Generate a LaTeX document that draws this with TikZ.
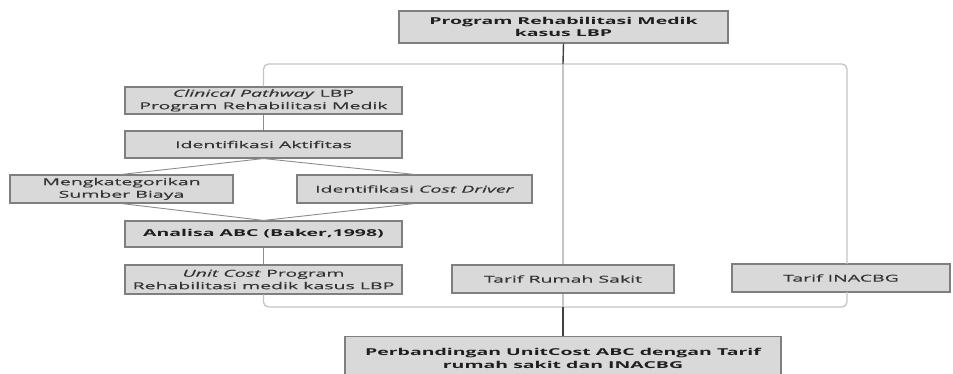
\documentclass[tikz,border=0pt]{standalone}
\usepackage{fontspec}
\setmainfont{Open Sans}[FakeStretch=2.05, UprightFeatures={FakeBold=0.35}, ItalicFeatures={FakeBold=0.35}]
\definecolor{boxfill}{HTML}{D9D9D9}
\definecolor{boxline}{HTML}{7F7F7F}
\definecolor{txt}{HTML}{333333}
\definecolor{busline}{HTML}{C4C4C4}
\definecolor{flowline}{HTML}{8C8C8C}
\definecolor{stemline}{HTML}{404040}
\begin{document}
\begin{tikzpicture}[x=1pt,y=1pt,
  box/.style={draw=boxline, line width=1.1pt, fill=boxfill, inner sep=0pt, align=center,
    font=\fontsize{9.5}{12.5}\selectfont, text=txt},
  boldbox/.style={box, font=\fontsize{9.5}{12.5}\selectfont\bfseries, text=black!88},
  bus/.style={draw=busline, line width=1.3pt, rounded corners=5pt},
  flow/.style={draw=flowline, line width=0.9pt},
  stem/.style={draw=stemline, line width=1.4pt}]
\useasboundingbox (0,0) rectangle (953,-374);
% nodes
\node[boldbox, minimum width=329pt, minimum height=32pt] (top) at (563.5,-27) {Program Rehabilitasi Medik\\kasus LBP};
\node[box, minimum width=277pt, minimum height=27pt] (clin) at (263.5,-100.5) {\textit{Clinical Pathway} LBP\\Program Rehabilitasi Medik};
\node[box, minimum width=277pt, minimum height=27pt] (ident) at (263.5,-144.5) {Identifikasi Aktifitas};
\node[box, minimum width=223pt, minimum height=28pt] (kat) at (121.5,-189) {Mengkategorikan\\Sumber Biaya};
\node[box, minimum width=235pt, minimum height=28pt] (cost) at (414.5,-189) {Identifikasi \textit{Cost Driver}};
\node[boldbox, minimum width=277pt, minimum height=26pt] (abc) at (263.5,-234) {Analisa ABC (Baker,1998)};
\node[box, minimum width=277pt, minimum height=29pt] (unit) at (263.5,-279.5) {\textit{Unit Cost} Program\\Rehabilitasi medik kasus LBP};
\node[box, minimum width=222pt, minimum height=28pt] (rs) at (563,-279) {Tarif Rumah Sakit};
\node[box, minimum width=218pt, minimum height=28pt] (ina) at (841,-278) {Tarif INACBG};
\node[boldbox, minimum width=436pt, minimum height=44pt, anchor=north] (bot) at (563,-336) {Perbandingan UnitCost ABC dengan Tarif\\rumah sakit dan INACBG};
% coordinates
\coordinate (tb) at (563,-64);
\coordinate (bb) at (563,-307);
\coordinate (inaT) at (847,-264);
\coordinate (inaB) at (847,-292);
% top bus
\path[bus] (clin.north) |- (tb) -| (inaT);
\path[bus] (tb) -- (rs.north);
\path[stem] (top.south) -- (tb);
% bottom bus
\path[bus] (unit.south) |- (bb) -| (inaB);
\path[bus] (rs.south) -- (bb);
\path[stem] (bb) -- (bot.north);
% flow
\path[flow] (clin.south) -- (ident.north);
\path[flow] (ident.south) -- (kat.north);
\path[flow] (ident.south) -- (cost.north);
\path[flow] (kat.south) -- (abc.north);
\path[flow] (cost.south) -- (abc.north);
\path[flow] (abc.south) -- (unit.north);
\end{tikzpicture}
\end{document}
